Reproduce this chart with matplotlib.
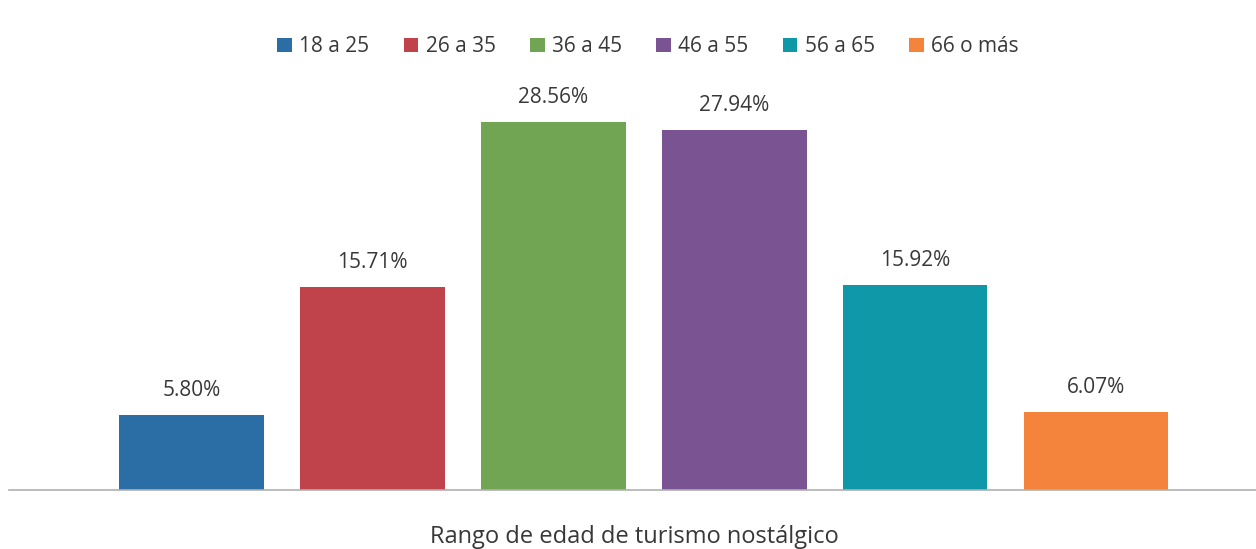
import matplotlib
matplotlib.use('Agg')
import matplotlib.pyplot as plt

categorias = ["18 a 25", "26 a 35", "36 a 45", "46 a 55", "56 a 65", "66 o más"]
porcentajes = [5.80, 15.71, 28.56, 27.94, 15.92, 6.07]
colores = ["#2B6EA6", "#C0424A", "#72A553", "#7A5393", "#0E98A8", "#F4833C"]

plt.rcParams['font.family'] = ['Open Sans', 'DejaVu Sans']

W, H = 1256, 549
fig = plt.figure(figsize=(W / 100, H / 100), dpi=100)
# axes placed in pixel terms: baseline at y=490, left at x=9
ax = fig.add_axes([9 / W, (H - 490) / H, (W - 9) / W, (490 - 100) / H])

x = list(range(len(categorias)))
bars = ax.bar(x, porcentajes, width=0.8, color=colores, label=categorias)

for b, v in zip(bars, porcentajes):
    ax.annotate("%.2f%%" % v, (b.get_x() + b.get_width() / 2, v),
                xytext=(0, 10), textcoords='offset points',
                ha='center', va='bottom', fontsize=15, color='#383838')

ax.set_xlim(-1.008, 5.884)
ax.set_ylim(0, 390 / 12.9)
for s in ['top', 'right', 'left']:
    ax.spines[s].set_visible(False)
ax.spines['bottom'].set_color('#b0b0b0')
ax.spines['bottom'].set_linewidth(1.2)
ax.set_xticks([])
ax.set_yticks([])

fig.text(634 / W, 1 - 537 / H, "Rango de edad de turismo nostálgico",
         ha='center', va='center', fontsize=17, color='#383838')

fig.legend(handles=bars, labels=categorias, loc='center',
           bbox_to_anchor=(648 / W, 1 - 47 / H), ncol=6, frameon=False,
           handlelength=0.7, handleheight=0.7, handletextpad=0.35,
           columnspacing=1.65, fontsize=15, labelcolor='#383838')

fig.savefig("out.png", dpi=100)
